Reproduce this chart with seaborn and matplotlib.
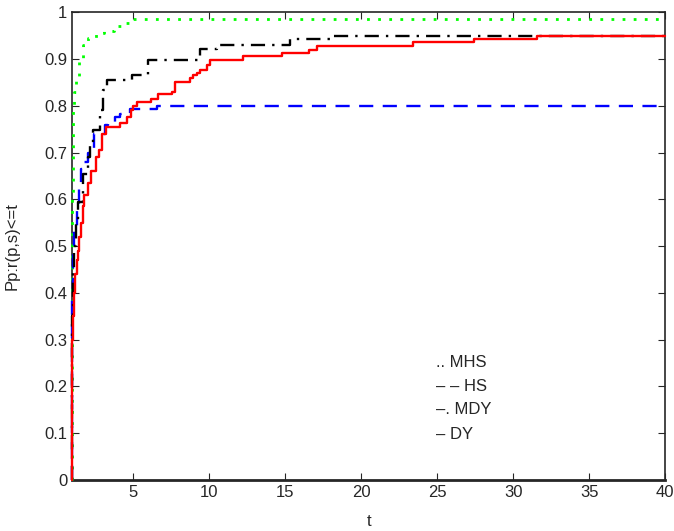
import pandas as pd
import numpy as np
import seaborn as sns
import matplotlib.pyplot as plt
from matplotlib.ticker import FormatStrFormatter

# performance profile values (steps, value holds until next t)
t_mhs = [1, 1, 1.03, 1.07, 1.15, 1.26, 1.46, 1.72, 2.05, 2.58, 3.1, 3.76, 4.55, 4.95, 40]
p_mhs = [0, 0.6, 0.72, 0.8, 0.83, 0.86, 0.9, 0.93, 0.945, 0.955, 0.96, 0.97, 0.978, 0.985, 0.985]

t_hs = [1, 1, 1.03, 1.07, 1.13, 1.33, 1.46, 1.59, 1.8, 2.05, 2.45, 3.17, 3.37, 3.83, 4.16, 4.8, 6.6, 40]
p_hs = [0, 0.4, 0.46, 0.5, 0.54, 0.59, 0.63, 0.665, 0.68, 0.70, 0.74, 0.758, 0.765, 0.776, 0.783,
        0.793, 0.80, 0.80]

t_mdy = [1, 1, 1.05, 1.13, 1.26, 1.39, 1.72, 2.05, 2.18, 2.38, 2.84, 3.04, 3.3, 4.95, 6.0, 9.42,
         10.5, 15.3, 18, 40]
p_mdy = [0, 0.35, 0.45, 0.5, 0.55, 0.595, 0.655, 0.69, 0.72, 0.748, 0.79, 0.833, 0.855, 0.865,
         0.897, 0.922, 0.93, 0.942, 0.95, 0.95]

t_dy = [1, 1, 1.04, 1.1, 1.2, 1.3, 1.39, 1.46, 1.59, 1.72, 1.79, 2.05, 2.25, 2.58, 2.78, 2.97,
        3.24, 4.16, 4.62, 4.88, 5.01, 5.28, 6.2, 6.66, 7.58, 7.78, 8.76, 8.96, 9.22, 9.42, 9.88,
        10.08, 12.25, 14.8, 16.6, 17.1, 23.4, 27.4, 31.6, 40]
p_dy = [0, 0.3, 0.35, 0.40, 0.44, 0.47, 0.49, 0.52, 0.55, 0.585, 0.61, 0.635, 0.66, 0.69, 0.705,
        0.74, 0.755, 0.763, 0.776, 0.79, 0.80, 0.808, 0.814, 0.825, 0.829, 0.85, 0.859, 0.865,
        0.870, 0.876, 0.887, 0.897, 0.906, 0.912, 0.92, 0.927, 0.936, 0.942, 0.949, 0.949]

legend_labels = [".. MHS", "\u2013 \u2013 HS", "\u2013. MDY", "\u2013 DY"]

sns.set_style("ticks")
plt.rcParams['font.family'] = ['Liberation Sans', 'DejaVu Sans']
plt.rcParams['xtick.direction'] = 'in'
plt.rcParams['ytick.direction'] = 'in'

fig = plt.figure(figsize=(6.74, 5.31), dpi=100)
ax = fig.add_axes([0.107, 0.096, 0.88, 0.881])

series = [
    (t_mhs, p_mhs, (0, 1, 0), (0, (1, 3)), 2.0),
    (t_hs, p_hs, (0, 0, 1), (0, (6, 4)), 1.7),
    (t_mdy, p_mdy, 'black', (0, (6, 3, 1, 3)), 1.7),
    (t_dy, p_dy, (1, 0, 0), '-', 1.7),
]
for t, p, c, ls, lw in series:
    df = pd.DataFrame({'t': t, 'p': p})
    sns.lineplot(data=df, x='t', y='p', estimator=None, sort=False, drawstyle='steps-post',
                 color=c, linestyle=ls, lw=lw, ax=ax, zorder=3, clip_on=False)

ax.set_xlim(1, 40)
ax.set_ylim(0, 1)
ax.set_xticks([5, 10, 15, 20, 25, 30, 35, 40])
ax.set_yticks(np.arange(0, 1.01, 0.1))
ax.yaxis.set_major_formatter(FormatStrFormatter('%g'))
ax.tick_params(top=True, right=True, length=5, width=0.8, labelsize=12)
for s in ax.spines.values():
    s.set_linewidth(1.2)
ax.spines['bottom'].set_linewidth(2)
ax.set_xlabel('t', fontsize=12, labelpad=10)
ax.set_ylabel('Pp:r(p,s)<=t', fontsize=12, labelpad=18)

ys = [0.252, 0.199, 0.150, 0.098]
for lab, y in zip(legend_labels, ys):
    ax.text(0.613, y, lab, transform=ax.transAxes, fontsize=12, va='center', ha='left')

fig.savefig('out.png', dpi=100)
